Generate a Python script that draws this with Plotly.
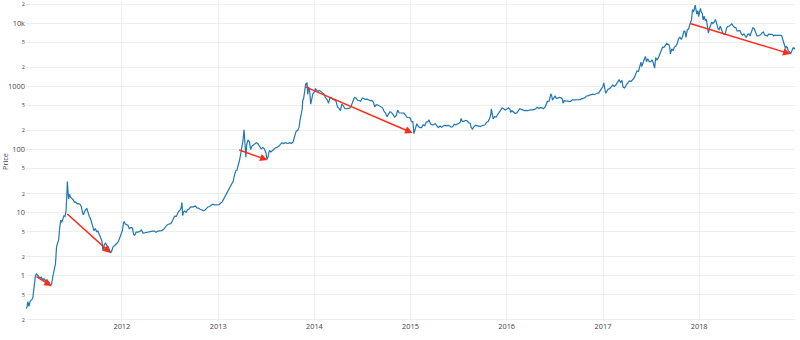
import math
import plotly.graph_objects as go

# Bitcoin closing price (USD), 2011-2018
dates = [
    "2011-01-01", "2011-01-06", "2011-01-09", "2011-01-13", "2011-01-18", "2011-01-24", "2011-01-28",
    "2011-02-02", "2011-02-06", "2011-02-10", "2011-02-14", "2011-02-19", "2011-02-24", "2011-03-01",
    "2011-03-06", "2011-03-11", "2011-03-16", "2011-03-21", "2011-03-26", "2011-03-31", "2011-04-04",
    "2011-04-09", "2011-04-14", "2011-04-19", "2011-04-24", "2011-04-28", "2011-05-02", "2011-05-06",
    "2011-05-10", "2011-05-14", "2011-05-18", "2011-05-22", "2011-05-26", "2011-05-30", "2011-06-03",
    "2011-06-06", "2011-06-08", "2011-06-10", "2011-06-13", "2011-06-16", "2011-06-20", "2011-06-25",
    "2011-06-30", "2011-07-05", "2011-07-10", "2011-07-15", "2011-07-20", "2011-07-26", "2011-07-31",
    "2011-08-04", "2011-08-08", "2011-08-12", "2011-08-16", "2011-08-21", "2011-08-26", "2011-08-31",
    "2011-09-04", "2011-09-08", "2011-09-12", "2011-09-17", "2011-09-22", "2011-09-27", "2011-10-02",
    "2011-10-07", "2011-10-12", "2011-10-17", "2011-10-21", "2011-10-26", "2011-10-31", "2011-11-05",
    "2011-11-10", "2011-11-15", "2011-11-19", "2011-11-24", "2011-11-29", "2011-12-04", "2011-12-09",
    "2011-12-14", "2011-12-19", "2011-12-24", "2011-12-29",
    "2012-01-03", "2012-01-07", "2012-01-10", "2012-01-14", "2012-01-19", "2012-01-24", "2012-01-29",
    "2012-02-04", "2012-02-10", "2012-02-15", "2012-02-19", "2012-02-24", "2012-03-01", "2012-03-08",
    "2012-03-15", "2012-03-22", "2012-03-29", "2012-04-05", "2012-04-12", "2012-04-19", "2012-04-26",
    "2012-05-03", "2012-05-10", "2012-05-17", "2012-05-24", "2012-05-31", "2012-06-07", "2012-06-14",
    "2012-06-21", "2012-06-28", "2012-07-05", "2012-07-12", "2012-07-19", "2012-07-26", "2012-08-02",
    "2012-08-09", "2012-08-13", "2012-08-16", "2012-08-19", "2012-08-22", "2012-08-27", "2012-09-01",
    "2012-09-06", "2012-09-12", "2012-09-18", "2012-09-24", "2012-09-30", "2012-10-06", "2012-10-12",
    "2012-10-18", "2012-10-24", "2012-10-30", "2012-11-05", "2012-11-11", "2012-11-17", "2012-11-23",
    "2012-11-29", "2012-12-05", "2012-12-11", "2012-12-17", "2012-12-23", "2012-12-29",
    "2013-01-04", "2013-01-10", "2013-01-16", "2013-01-22", "2013-01-28", "2013-02-03", "2013-02-09",
    "2013-02-15", "2013-02-21", "2013-02-27", "2013-03-04", "2013-03-09", "2013-03-13", "2013-03-18",
    "2013-03-23", "2013-03-28", "2013-04-01", "2013-04-05", "2013-04-09", "2013-04-11", "2013-04-13",
    "2013-04-16", "2013-04-19", "2013-04-24", "2013-04-29", "2013-05-04", "2013-05-09", "2013-05-14",
    "2013-05-20", "2013-05-26", "2013-06-01", "2013-06-07", "2013-06-13", "2013-06-19", "2013-06-25",
    "2013-07-01", "2013-07-05", "2013-07-09", "2013-07-14", "2013-07-20", "2013-07-26", "2013-08-01",
    "2013-08-07", "2013-08-13", "2013-08-19", "2013-08-25", "2013-08-31", "2013-09-06", "2013-09-12",
    "2013-09-18", "2013-09-24", "2013-09-30", "2013-10-06", "2013-10-12", "2013-10-18", "2013-10-24",
    "2013-10-30", "2013-11-04", "2013-11-08", "2013-11-12", "2013-11-16", "2013-11-18", "2013-11-21",
    "2013-11-25", "2013-11-29", "2013-12-02", "2013-12-04", "2013-12-07", "2013-12-10", "2013-12-14",
    "2013-12-18", "2013-12-22", "2013-12-26", "2013-12-31",
    "2014-01-05", "2014-01-10", "2014-01-15", "2014-01-20", "2014-01-26", "2014-02-01", "2014-02-06",
    "2014-02-12", "2014-02-18", "2014-02-24", "2014-03-01", "2014-03-06", "2014-03-12", "2014-03-18",
    "2014-03-24", "2014-03-30", "2014-04-04", "2014-04-10", "2014-04-15", "2014-04-21", "2014-04-27",
    "2014-05-03", "2014-05-09", "2014-05-15", "2014-05-21", "2014-05-27", "2014-06-02", "2014-06-08",
    "2014-06-14", "2014-06-20", "2014-06-26", "2014-07-02", "2014-07-08", "2014-07-14", "2014-07-20",
    "2014-07-26", "2014-08-01", "2014-08-07", "2014-08-13", "2014-08-18", "2014-08-24", "2014-08-30",
    "2014-09-05", "2014-09-11", "2014-09-17", "2014-09-22", "2014-09-28", "2014-10-04", "2014-10-09",
    "2014-10-15", "2014-10-21", "2014-10-27", "2014-11-02", "2014-11-08", "2014-11-13", "2014-11-19",
    "2014-11-25", "2014-12-01", "2014-12-07", "2014-12-13", "2014-12-19", "2014-12-25", "2014-12-31",
    "2015-01-05", "2015-01-10", "2015-01-14", "2015-01-18", "2015-01-25", "2015-01-31", "2015-02-06",
    "2015-02-12", "2015-02-18", "2015-02-24", "2015-03-02", "2015-03-08", "2015-03-12", "2015-03-18",
    "2015-03-24", "2015-03-30", "2015-04-05", "2015-04-11", "2015-04-17", "2015-04-23", "2015-04-29",
    "2015-05-05", "2015-05-11", "2015-05-17", "2015-05-23", "2015-05-29", "2015-06-04", "2015-06-10",
    "2015-06-16", "2015-06-22", "2015-06-28", "2015-07-04", "2015-07-09", "2015-07-12", "2015-07-17",
    "2015-07-23", "2015-07-29", "2015-08-04", "2015-08-10", "2015-08-16", "2015-08-19", "2015-08-24",
    "2015-08-30", "2015-09-05", "2015-09-11", "2015-09-17", "2015-09-23", "2015-09-29", "2015-10-05",
    "2015-10-11", "2015-10-17", "2015-10-23", "2015-10-29", "2015-11-02", "2015-11-04", "2015-11-07",
    "2015-11-11", "2015-11-16", "2015-11-22", "2015-11-28", "2015-12-03", "2015-12-09", "2015-12-15",
    "2015-12-21", "2015-12-27",
    "2016-01-02", "2016-01-08", "2016-01-14", "2016-01-16", "2016-01-21", "2016-01-27", "2016-02-02",
    "2016-02-08", "2016-02-14", "2016-02-20", "2016-02-26", "2016-03-03", "2016-03-09", "2016-03-15",
    "2016-03-21", "2016-03-27", "2016-04-02", "2016-04-08", "2016-04-14", "2016-04-20", "2016-04-26",
    "2016-05-02", "2016-05-08", "2016-05-14", "2016-05-20", "2016-05-26", "2016-05-30", "2016-06-04",
    "2016-06-10", "2016-06-14", "2016-06-17", "2016-06-20", "2016-06-23", "2016-06-28", "2016-07-03",
    "2016-07-08", "2016-07-14", "2016-07-20", "2016-07-26", "2016-07-31", "2016-08-02", "2016-08-07",
    "2016-08-13", "2016-08-19", "2016-08-25", "2016-08-31", "2016-09-06", "2016-09-12", "2016-09-18",
    "2016-09-24", "2016-09-30", "2016-10-06", "2016-10-12", "2016-10-18", "2016-10-24", "2016-10-30",
    "2016-11-04", "2016-11-10", "2016-11-16", "2016-11-22", "2016-11-28", "2016-12-04", "2016-12-10",
    "2016-12-16", "2016-12-22", "2016-12-28",
    "2017-01-01", "2017-01-04", "2017-01-07", "2017-01-11", "2017-01-15", "2017-01-20", "2017-01-26",
    "2017-02-01", "2017-02-07", "2017-02-13", "2017-02-19", "2017-02-25", "2017-03-03", "2017-03-09",
    "2017-03-14", "2017-03-18", "2017-03-24", "2017-03-30", "2017-04-05", "2017-04-11", "2017-04-17",
    "2017-04-23", "2017-04-29", "2017-05-04", "2017-05-10", "2017-05-16", "2017-05-21", "2017-05-25",
    "2017-05-28", "2017-06-02", "2017-06-07", "2017-06-11", "2017-06-15", "2017-06-20", "2017-06-26",
    "2017-07-01", "2017-07-06", "2017-07-11", "2017-07-16", "2017-07-20", "2017-07-25", "2017-07-31",
    "2017-08-05", "2017-08-10", "2017-08-15", "2017-08-20", "2017-08-25", "2017-08-31", "2017-09-02",
    "2017-09-07", "2017-09-11", "2017-09-14", "2017-09-19", "2017-09-24", "2017-09-29", "2017-10-05",
    "2017-10-10", "2017-10-15", "2017-10-20", "2017-10-25", "2017-10-30", "2017-11-04", "2017-11-08",
    "2017-11-12", "2017-11-17", "2017-11-22", "2017-11-26", "2017-11-29", "2017-12-03", "2017-12-07",
    "2017-12-10", "2017-12-14", "2017-12-17", "2017-12-21", "2017-12-23", "2017-12-27", "2017-12-30",
    "2018-01-03", "2018-01-06", "2018-01-09", "2018-01-13", "2018-01-16", "2018-01-20", "2018-01-24",
    "2018-01-28", "2018-02-01", "2018-02-05", "2018-02-09", "2018-02-14", "2018-02-18", "2018-02-22",
    "2018-02-27", "2018-03-04", "2018-03-09", "2018-03-14", "2018-03-18", "2018-03-22", "2018-03-27",
    "2018-04-01", "2018-04-06", "2018-04-11", "2018-04-15", "2018-04-20", "2018-04-25", "2018-04-30",
    "2018-05-05", "2018-05-10", "2018-05-15", "2018-05-20", "2018-05-25", "2018-05-30", "2018-06-05",
    "2018-06-10", "2018-06-15", "2018-06-20", "2018-06-25", "2018-06-29", "2018-07-04", "2018-07-09",
    "2018-07-13", "2018-07-18", "2018-07-24", "2018-07-29", "2018-08-03", "2018-08-08", "2018-08-13",
    "2018-08-18", "2018-08-23", "2018-08-28", "2018-09-02", "2018-09-07", "2018-09-12", "2018-09-17",
    "2018-09-22", "2018-09-27", "2018-10-02", "2018-10-07", "2018-10-11", "2018-10-16", "2018-10-21",
    "2018-10-26", "2018-10-31", "2018-11-05", "2018-11-10", "2018-11-14", "2018-11-19", "2018-11-22",
    "2018-11-25", "2018-11-28", "2018-12-02", "2018-12-06", "2018-12-10", "2018-12-14", "2018-12-18",
    "2018-12-21", "2018-12-24", "2018-12-28", "2018-12-31",
]

prices = [
    0.30, 0.32, 0.39, 0.33, 0.40, 0.42, 0.45,
    0.72, 0.95, 1.08, 1.05, 0.98, 0.92, 0.95,
    0.87, 0.90, 0.84, 0.86, 0.80, 0.78, 0.70,
    0.74, 0.98, 1.18, 1.55, 2.9, 3.4, 3.7,
    5.8, 7.6, 7.0, 8.4, 8.9, 8.7, 10.5,
    18.5, 31.0, 23.0, 16.5, 19.5, 17.5, 16.8,
    16.0, 14.6, 14.8, 13.8, 13.9, 13.6, 12.5,
    10.2, 9.2, 10.2, 11.2, 11.6, 9.8, 8.6,
    8.0, 6.8, 5.7, 5.2, 5.6, 5.0, 5.1,
    4.6, 4.0, 3.6, 2.5, 3.1, 3.3, 3.0,
    2.9, 2.5, 2.3, 2.5, 2.9, 3.0, 3.1,
    3.3, 3.5, 4.0, 4.4,
    5.2, 6.8, 7.1, 6.6, 6.4, 6.3, 5.6,
    5.8, 5.7, 4.5, 4.4, 4.9, 4.9, 5.0,
    5.3, 4.7, 4.8, 4.9, 4.9, 5.1, 5.1,
    5.1, 4.9, 5.1, 5.1, 5.2, 5.4, 5.9,
    6.4, 6.6, 6.7, 7.6, 8.8, 8.7, 10.2,
    11.0, 11.8, 14.5, 9.0, 10.2, 10.6, 10.1,
    11.0, 11.4, 12.3, 12.2, 12.4, 12.7, 11.9,
    11.8, 11.3, 10.9, 10.8, 10.9, 11.8, 12.3,
    12.5, 13.2, 13.6, 13.3, 13.4, 13.5,
    13.4, 14.1, 14.8, 16.5, 18.5, 20.5, 23.5,
    26.5, 29.5, 31.5, 40, 46, 47, 55,
    68, 88, 105, 140, 205, 140, 95,
    75, 118, 142, 132, 100, 113, 117,
    122, 128, 122, 110, 102, 107, 102,
    88, 70, 76, 96, 91, 96, 104,
    106, 108, 112, 120, 128, 124, 128,
    126, 125, 128, 124, 131, 165, 195,
    200, 225, 300, 360, 440, 600, 640,
    820, 1100, 1040, 1150, 740, 980, 850,
    520, 620, 760, 800,
    920, 860, 830, 860, 820, 800, 760,
    660, 620, 540, 650, 660, 620, 610,
    580, 470, 450, 410, 520, 490, 440,
    440, 445, 450, 490, 580, 665, 650,
    600, 595, 580, 650, 625, 620, 625,
    600, 590, 595, 560, 470, 510, 505,
    485, 475, 455, 405, 375, 330, 355,
    395, 385, 355, 325, 345, 420, 380,
    375, 380, 375, 350, 320, 320, 315,
    275, 275, 178, 210, 255, 230, 222,
    222, 245, 238, 270, 275, 295, 255,
    245, 247, 255, 237, 222, 235, 225,
    235, 240, 236, 240, 237, 225, 228,
    250, 245, 250, 260, 270, 310, 278,
    277, 289, 283, 265, 258, 225, 210,
    230, 240, 238, 232, 230, 237, 240,
    246, 270, 276, 314, 360, 440, 385,
    305, 330, 325, 357, 390, 415, 455,
    440, 420,
    435, 455, 430, 385, 410, 395, 373,
    375, 400, 440, 430, 420, 412, 415,
    410, 420, 420, 420, 425, 440, 465,
    445, 460, 455, 440, 470, 530, 575,
    580, 690, 760, 710, 600, 650, 705,
    640, 655, 665, 655, 620, 540, 590,
    585, 575, 578, 575, 610, 608, 610,
    605, 610, 612, 640, 638, 655, 700,
    705, 715, 745, 750, 735, 765, 775,
    785, 860, 975,
    1000, 1135, 900, 780, 820, 895, 915,
    985, 1040, 995, 1050, 1150, 1260, 1150,
    1245, 970, 940, 1040, 1130, 1210, 1190,
    1250, 1340, 1520, 1750, 1720, 2040, 2400,
    2050, 2480, 2700, 2950, 2450, 2720, 2430,
    2440, 2610, 2330, 1930, 2850, 2580, 2880,
    3250, 3430, 4150, 4100, 4350, 4750, 4600,
    4600, 4200, 3250, 3900, 3650, 4170, 4320,
    4770, 5700, 5980, 5500, 6130, 7400, 7450,
    5950, 7800, 8050, 9300, 9900, 11200, 16400,
    15000, 16500, 19300, 15600, 13800, 15700, 12600,
    15100, 17100, 14900, 14200, 11200, 12800, 11100,
    11500, 9200, 6950, 8200, 9450, 10400, 9800,
    10300, 11400, 9300, 8100, 7900, 8900, 7900,
    6900, 6600, 6900, 8300, 8900, 8900, 9250,
    9700, 9000, 8500, 8500, 7500, 7500, 7600,
    6750, 6450, 6750, 6250, 5900, 6600, 6750,
    6250, 7350, 8400, 8200, 7400, 6300, 6250,
    6400, 6500, 7050, 7200, 6450, 6300, 6250,
    6700, 6650, 6550, 6600, 6250, 6450, 6400,
    6450, 6350, 6400, 6350, 5650, 4750, 4350,
    3950, 4250, 4100, 3600, 3500, 3250, 3600,
    4000, 4050, 3900, 4100,
]

# Drawdown arrows: from a round-number level down to the following low
arrow_start_dates = ["2011-02-05", "2011-06-02", "2013-03-16", "2013-11-22", "2017-11-22"]
arrow_start_prices = [1.0, 10.0, 100.0, 1000.0, 10000.0]
arrow_end_dates = ["2011-04-10", "2011-11-19", "2013-07-07", "2015-01-09", "2018-12-14"]
arrow_end_prices = [0.69, 2.3, 68.0, 182.0, 3240.0]

fig = go.Figure()
fig.add_trace(go.Scatter(
    x=dates, y=prices, mode="lines",
    line=dict(color="#1f77b4", width=1.2),
    showlegend=False,
))

for sd, sp, ed, ep in zip(arrow_start_dates, arrow_start_prices, arrow_end_dates, arrow_end_prices):
    fig.add_annotation(
        x=ed, y=math.log10(ep), ax=sd, ay=math.log10(sp),
        xref="x", yref="y", axref="x", ayref="y",
        text="", showarrow=True,
        arrowhead=2, arrowsize=1, arrowwidth=1.5, arrowcolor="#ff2a1a",
    )

fig.update_layout(
    template="none",
    width=800, height=340,
    margin=dict(l=26, r=5, t=2, b=19, pad=0),
    paper_bgcolor="white", plot_bgcolor="white",
    font=dict(family="Open Sans, Verdana, Arial, sans-serif", size=7.4, color="#444"),
    showlegend=False,
    xaxis=dict(
        type="date",
        range=["2011-01-02", "2018-12-31"],
        tick0="2012-01-01", dtick="M12", tickformat="%Y",
        showgrid=True, gridcolor="#eee", gridwidth=1,
        zeroline=False, showline=False, ticks="",
    ),
    yaxis=dict(
        type="log",
        range=[-0.715, 4.333],
        dtick="D2",
        ticklabeloverflow="allow",
        title=dict(text="Price", font=dict(size=7.4), standoff=6),
        showgrid=True, gridcolor="#eee", gridwidth=1,
        zeroline=False, showline=False, ticks="",
    ),
)

fig.write_html("out.html")
